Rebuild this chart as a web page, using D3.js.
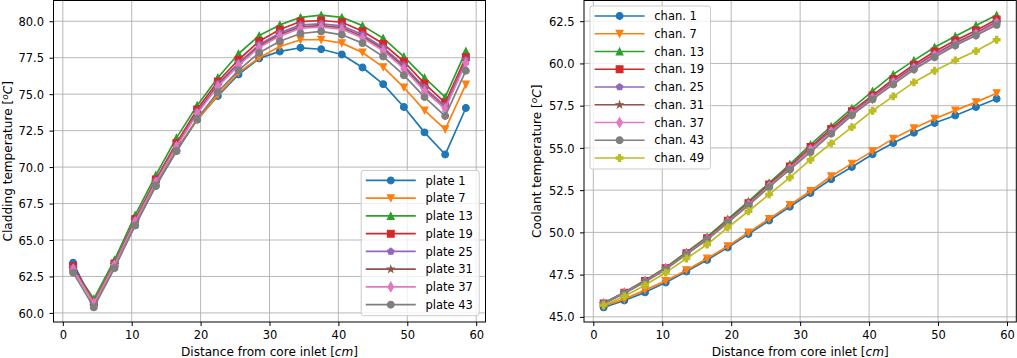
<!DOCTYPE html>
<html><head><meta charset="utf-8">
<script src="https://cdn.jsdelivr.net/npm/d3@7/dist/d3.min.js"></script>
<style>
body{margin:0;background:#fff}
svg{display:block}
text{font-family:"DejaVu Sans",sans-serif}
</style>
</head><body>
<svg id="c" width="1017" height="358"></svg>
<script>
// ---------------- data ----------------
const distance = [1.5,4.5,7.5,10.5,13.5,16.5,19.5,22.5,25.5,28.5,31.5,34.5,37.5,40.5,43.5,46.5,49.5,52.5,55.5,58.5];
const xTicks = [0,10,20,30,40,50,60];
const claddingTicks = [60,62.5,65,67.5,70,72.5,75,77.5,80];
const coolantTicks = [45,47.5,50,52.5,55,57.5,60,62.5];
const plateLabels = ["plate 1","plate 7","plate 13","plate 19","plate 25","plate 31","plate 37","plate 43"];
const chanLabels = ["chan. 1","chan. 7","chan. 13","chan. 19","chan. 25","chan. 31","chan. 37","chan. 43","chan. 49"];

// cladding temperature [°C]
const plate1  = [63.44,60.60,63.20,66.00,68.70,71.10,73.25,74.87,76.35,77.45,77.93,78.18,78.08,77.72,76.83,75.69,74.12,72.38,70.86,74.05];
const plate7  = [63.15,60.60,63.20,66.05,68.75,71.25,73.22,74.95,76.47,77.50,78.27,78.73,78.73,78.50,77.86,76.85,75.46,73.89,72.59,75.67];
const plate13 = [63.10,60.96,63.63,66.70,69.44,72.00,74.23,76.13,77.77,79.02,79.75,80.27,80.42,80.27,79.70,78.84,77.58,76.13,74.80,77.95];
const plate19 = [63.22,60.75,63.40,66.43,69.15,71.65,73.96,75.87,77.36,78.63,79.43,79.98,80.05,79.93,79.32,78.45,77.24,75.72,74.41,77.54];
const plate25 = [63.10,60.70,63.35,66.35,69.05,71.50,73.80,75.70,77.15,78.40,79.20,79.75,79.82,79.68,79.08,78.20,76.98,75.45,74.18,77.35];
const plate31 = [63.05,60.68,63.30,66.30,69.00,71.45,73.72,75.60,77.05,78.30,79.08,79.62,79.70,79.55,78.95,78.08,76.85,75.33,74.05,77.25];
const plate37 = [63.00,60.65,63.28,66.25,68.95,71.40,73.65,75.52,76.97,78.20,78.98,79.52,79.60,79.45,78.86,77.98,76.75,75.22,74.00,77.15];
const plate43 = [62.76,60.38,63.06,66.00,68.74,71.10,73.32,75.14,76.63,77.84,78.63,79.16,79.30,79.07,78.50,77.58,76.30,74.80,73.50,76.61];

// coolant temperature [°C]
const chan1  = [45.56,45.97,46.45,47.03,47.68,48.37,49.10,49.90,50.70,51.52,52.33,53.14,53.87,54.62,55.29,55.90,56.47,56.92,57.42,57.91];
const chan7  = [45.65,46.05,46.58,47.13,47.76,48.45,49.18,49.99,50.80,51.62,52.45,53.32,54.07,54.81,55.55,56.16,56.73,57.22,57.71,58.24];
const chan13 = [45.82,46.46,47.16,47.93,48.83,49.73,50.78,51.83,52.93,54.03,55.19,56.27,57.34,58.36,59.35,60.18,60.96,61.61,62.25,62.86];
const chan19 = [45.80,46.43,47.12,47.88,48.77,49.66,50.69,51.73,52.83,53.90,55.05,56.12,57.17,58.11,59.07,59.92,60.71,61.36,61.95,62.60];
const chan25 = [45.79,46.42,47.10,47.86,48.74,49.62,50.65,51.68,52.77,53.83,54.96,56.02,57.08,58.02,58.95,59.80,60.57,61.22,61.82,62.48];
const chan31 = [45.79,46.41,47.09,47.85,48.73,49.60,50.63,51.66,52.75,53.80,54.92,55.98,57.03,57.97,58.90,59.75,60.50,61.16,61.76,62.43];
const chan37 = [45.78,46.41,47.08,47.84,48.72,49.59,50.61,51.64,52.73,53.77,54.88,55.94,56.99,57.93,58.85,59.70,60.45,61.11,61.71,62.38];
const chan43 = [45.77,46.40,47.06,47.82,48.70,49.56,50.58,51.60,52.68,53.71,54.75,55.84,56.93,57.87,58.76,59.64,60.37,61.06,61.65,62.28];
const chan49 = [45.69,46.22,46.87,47.62,48.45,49.28,50.29,51.25,52.25,53.24,54.30,55.27,56.23,57.20,58.05,58.88,59.57,60.18,60.73,61.40];

// ---------------- styles ----------------
const palette = ["#1f77b4","#ff7f0e","#2ca02c","#d62728","#9467bd","#8c564b","#e377c2","#7f7f7f","#bcbd22"];
const markerTypes = ["o","v","^","s","p","*","d","o","P"];
const FS = 11.5, LFS = 12.1, MS = 6.8, LW = 1.7, MEW = 1.1;

function markerPath(t, s) {
  const h = s / 2;
  const poly = pts => "M" + pts.map(p => p[0].toFixed(3) + "," + p[1].toFixed(3)).join("L") + "Z";
  switch (t) {
    case "o": return `M${h},0A${h},${h} 0 1,1 ${-h},0A${h},${h} 0 1,1 ${h},0Z`;
    case "v": return poly([[0,h],[-h,-h],[h,-h]]);
    case "^": return poly([[0,-h],[-h,h],[h,h]]);
    case "s": return poly([[-h,-h],[h,-h],[h,h],[-h,h]]);
    case "p": return poly(d3.range(5).map(k => { const a = -Math.PI/2 + k*2*Math.PI/5; return [h*Math.cos(a), h*Math.sin(a)]; }));
    case "*": return poly(d3.range(10).map(k => { const a = -Math.PI/2 + k*Math.PI/5; const r = k%2 ? h*0.381966 : h; return [r*Math.cos(a), r*Math.sin(a)]; }));
    case "d": return poly([[0,-0.707*s],[0.424*s,0],[0,0.707*s],[-0.424*s,0]]);
    case "P": { const a = s/6; return poly([[-a,-h],[a,-h],[a,-a],[h,-a],[h,a],[a,a],[a,h],[-a,h],[-a,a],[-h,a],[-h,-a],[-a,-a]]); }
  }
}

const svg = d3.select("#c");

function panel(cfg) {
  const {x0, x1, y0, y1, series, labels, yTicks, yLabelPrefix, yLabelX, legendLoc} = cfg;
  const xr = d3.extent(distance), yr = d3.extent(series.flat());
  const xm = (xr[1]-xr[0])*0.05, ym = (yr[1]-yr[0])*0.05;
  const x = d3.scaleLinear().domain([xr[0]-xm, xr[1]+xm]).range([x0, x1]);
  const y = d3.scaleLinear().domain([yr[0]-ym, yr[1]+ym]).range([y1, y0]);
  const g = svg.append("g");

  // grid
  g.append("g").selectAll("line").data(xTicks).join("line")
    .attr("x1", d => x(d)).attr("x2", d => x(d)).attr("y1", y0).attr("y2", y1)
    .attr("stroke", "#b0b0b0").attr("stroke-width", 0.9);
  g.append("g").selectAll("line").data(yTicks).join("line")
    .attr("y1", d => y(d)).attr("y2", d => y(d)).attr("x1", x0).attr("x2", x1)
    .attr("stroke", "#b0b0b0").attr("stroke-width", 0.9);

  // series
  const line = d3.line().x(d => x(d[0])).y(d => y(d[1]));
  series.forEach((vals, i) => {
    const pts = vals.map((v, j) => [distance[j], v]);
    const sg = g.append("g");
    sg.append("path").attr("d", line(pts)).attr("fill", "none")
      .attr("stroke", palette[i]).attr("stroke-width", LW).attr("stroke-linejoin", "round");
    sg.selectAll("path.m").data(pts).join("path").attr("class", "m")
      .attr("transform", d => `translate(${x(d[0])},${y(d[1])})`)
      .attr("d", markerPath(markerTypes[i], MS))
      .attr("fill", palette[i]).attr("stroke", palette[i]).attr("stroke-width", MEW).attr("stroke-linejoin", "miter");
  });

  // axes
  const ax = g.append("g").attr("transform", `translate(0,${y1})`)
    .call(d3.axisBottom(x).tickValues(xTicks).tickSize(4).tickPadding(5).tickFormat(d3.format("d")));
  const ay = g.append("g").attr("transform", `translate(${x0},0)`)
    .call(d3.axisLeft(y).tickValues(yTicks).tickSize(4).tickPadding(5.5).tickFormat(d3.format(".1f")));
  [ax, ay].forEach(a => {
    a.select(".domain").remove();
    a.attr("font-size", FS).attr("font-family", "DejaVu Sans");
    a.selectAll(".tick line").attr("stroke", "#000").attr("stroke-width", 1);
    a.selectAll(".tick text").attr("fill", "#000");
  });
  ay.selectAll(".tick text").attr("dy", "0.36em");

  // frame
  g.append("rect").attr("x", x0).attr("y", y0).attr("width", x1-x0).attr("height", y1-y0)
    .attr("fill", "none").attr("stroke", "#000").attr("stroke-width", 1);

  // x label
  const xl = g.append("text").attr("x", (x0+x1)/2).attr("y", 356).attr("text-anchor", "middle")
    .attr("font-size", LFS).attr("fill", "#000");
  xl.append("tspan").text("Distance from core inlet [");
  xl.append("tspan").attr("font-style", "italic").text("cm");
  xl.append("tspan").text("]");

  // y label
  const yl = g.append("text").attr("transform", `translate(${yLabelX},${(y0+y1)/2}) rotate(-90)`)
    .attr("text-anchor", "middle").attr("font-size", LFS).attr("fill", "#000");
  yl.append("tspan").text(yLabelPrefix + " [");
  yl.append("tspan").attr("font-style", "italic").attr("font-size", LFS*0.75).attr("dy", -4.2).text("o");
  yl.append("tspan").attr("font-style", "italic").attr("dy", 4.2).text("C");
  yl.append("tspan").text("]");

  // legend
  const n = labels.length, step = 17.75;
  const lg = g.append("g");
  const box = lg.append("rect");
  const handle = 50, padL = 4.6, gap = 9.7, padR = 6.3;
  const texts = [];
  labels.forEach((lab, i) => {
    const t = lg.append("text").attr("font-size", FS).attr("fill", "#000").text(lab);
    texts.push(t);
  });
  const tw = d3.max(texts, t => t.node().getComputedTextLength());
  const bw = padL + handle + gap + tw + padR;
  const bh = (n-1)*step + 21;
  let bx, by;
  if (legendLoc === "lower right") { bx = x1 - 6.3 - bw; by = y1 - 6.3 - bh; }
  else { bx = x0 + 6; by = y0 + 5.5; }
  box.attr("x", bx).attr("y", by).attr("width", bw).attr("height", bh).attr("rx", 2.5)
    .attr("fill", "#fff").attr("fill-opacity", 0.8).attr("stroke", "#cccccc").attr("stroke-width", 1);
  labels.forEach((lab, i) => {
    const cy = by + 10 + i*step;
    const hx = bx + padL;
    lg.append("line").attr("x1", hx).attr("x2", hx+handle).attr("y1", cy).attr("y2", cy)
      .attr("stroke", palette[i]).attr("stroke-width", LW);
    lg.append("path").attr("transform", `translate(${hx+handle/2},${cy})`)
      .attr("d", markerPath(markerTypes[i], MS))
      .attr("fill", palette[i]).attr("stroke", palette[i]).attr("stroke-width", MEW);
    texts[i].attr("x", hx + handle + gap).attr("y", cy).attr("dy", "0.36em");
  });
}

panel({
  x0: 53.5, x1: 485.5, y0: 0.5, y1: 322,
  series: [plate1, plate7, plate13, plate19, plate25, plate31, plate37, plate43],
  labels: plateLabels, yTicks: claddingTicks,
  yLabelPrefix: "Cladding temperature", yLabelX: 11.8, legendLoc: "lower right"
});
panel({
  x0: 584, x1: 1016.3, y0: 0.5, y1: 322,
  series: [chan1, chan7, chan13, chan19, chan25, chan31, chan37, chan43, chan49],
  labels: chanLabels, yTicks: coolantTicks,
  yLabelPrefix: "Coolant temperature", yLabelX: 541, legendLoc: "upper left"
});
</script>
</body></html>
